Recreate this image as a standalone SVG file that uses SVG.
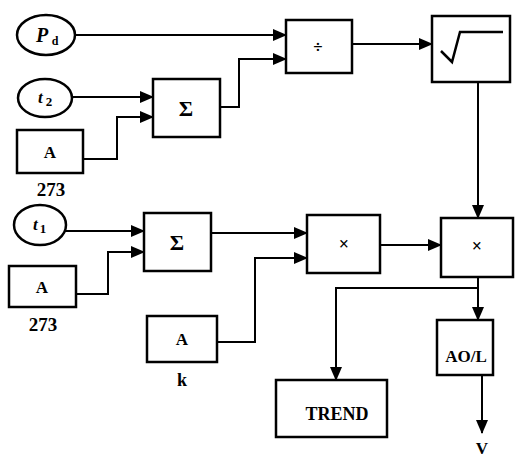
<svg xmlns="http://www.w3.org/2000/svg" width="524" height="457" viewBox="0 0 524 457">
<style>
.box{fill:#fff;stroke:#000;stroke-width:2.5}
.ln{fill:none;stroke:#000;stroke-width:2}
.t{font-family:"Liberation Serif","DejaVu Serif","Times New Roman",serif;font-weight:bold;fill:#000;text-anchor:middle}
.it{font-family:"Liberation Serif","DejaVu Serif","Times New Roman",serif;font-style:italic;font-weight:bold;fill:#000}
</style>
<defs>
<marker id="ar" markerUnits="userSpaceOnUse" markerWidth="14" markerHeight="12" refX="13" refY="6" orient="auto">
<path d="M0,0 L14,6 L0,12 Z" fill="#000"/>
</marker>
</defs>
<rect width="524" height="457" fill="#fff"/>
<g id="connectors">
<path class="ln" d="M75,35 H286" marker-end="url(#ar)"/>
<path class="ln" d="M72,97 H153" marker-end="url(#ar)"/>
<path class="ln" d="M83,159 H117 V117 H153" marker-end="url(#ar)"/>
<path class="ln" d="M220,107 H239 V59 H286" marker-end="url(#ar)"/>
<path class="ln" d="M352,44 H432" marker-end="url(#ar)"/>
<path class="ln" d="M478,82 V218" marker-end="url(#ar)"/>
<path class="ln" d="M65,231 H144" marker-end="url(#ar)"/>
<path class="ln" d="M76,294 H108 V252 H144" marker-end="url(#ar)"/>
<path class="ln" d="M211,233 H307" marker-end="url(#ar)"/>
<path class="ln" d="M217,342 H255 V258 H307" marker-end="url(#ar)"/>
<path class="ln" d="M380,245 H441" marker-end="url(#ar)"/>
<path class="ln" d="M478,277 V320" marker-end="url(#ar)"/>
<path class="ln" d="M478,288 H336 V380" marker-end="url(#ar)"/>
<path class="ln" d="M482,375 V433" marker-end="url(#ar)"/>
</g>
<g id="Pd">
<ellipse class="box" cx="46" cy="35" rx="29" ry="20"/>
<text class="it" x="36" y="42" font-size="20">P</text>
<text class="t" x="55" y="45" font-size="12" font-weight="normal">d</text>
</g>
<g id="t2">
<ellipse class="box" cx="45" cy="98" rx="27" ry="19"/>
<text class="it" x="38" y="103" font-size="17">t</text>
<text class="t" x="49" y="106" font-size="13">2</text>
</g>
<g id="A1">
<rect class="box" x="17" y="130" width="66" height="43"/>
<text class="t" x="50" y="158" font-size="17">A</text>
<text class="t" x="51" y="196" font-size="19">273</text>
</g>
<g id="sum1">
<rect class="box" x="153" y="79" width="67" height="58"/>
<text class="t" x="186" y="116" font-size="22">Σ</text>
</g>
<g id="div">
<rect class="box" x="286" y="20" width="66" height="53"/>
<text class="t" x="318" y="53" font-size="17" font-weight="normal">÷</text>
</g>
<g id="sqrt">
<rect class="box" x="432" y="16" width="78" height="66"/>
<path d="M441,51 L452,62 L460,32 H503" fill="none" stroke="#000" stroke-width="2.5"/>
</g>
<g id="t1">
<ellipse class="box" cx="40" cy="225" rx="26" ry="20"/>
<text class="it" x="33" y="230" font-size="17">t</text>
<text class="t" x="43" y="233" font-size="13">1</text>
</g>
<g id="A2">
<rect class="box" x="9" y="266" width="67" height="41"/>
<text class="t" x="42" y="293" font-size="17">A</text>
<text class="t" x="43" y="331" font-size="19">273</text>
</g>
<g id="sum2">
<rect class="box" x="144" y="213" width="67" height="58"/>
<text class="t" x="177" y="250" font-size="22">Σ</text>
</g>
<g id="Ak">
<rect class="box" x="147" y="316" width="70" height="46"/>
<text class="t" x="182" y="345" font-size="17">A</text>
<text class="t" x="182" y="386" font-size="18">k</text>
</g>
<g id="mul1">
<rect class="box" x="307" y="215" width="73" height="58"/>
<text class="t" x="344" y="250" font-size="18">×</text>
</g>
<g id="mul2">
<rect class="box" x="441" y="218" width="72" height="59"/>
<text class="t" x="477" y="252" font-size="18">×</text>
</g>
<g id="AOL">
<rect class="box" x="437" y="320" width="56" height="55"/>
<text class="t" x="466" y="362" font-size="17">AO/L</text>
</g>
<g id="TREND">
<rect class="box" x="276" y="380" width="111" height="57"/>
<text class="t" x="337" y="420" font-size="18">TREND</text>
</g>
<text class="t" x="482" y="454" font-size="17">V</text>
</svg>
